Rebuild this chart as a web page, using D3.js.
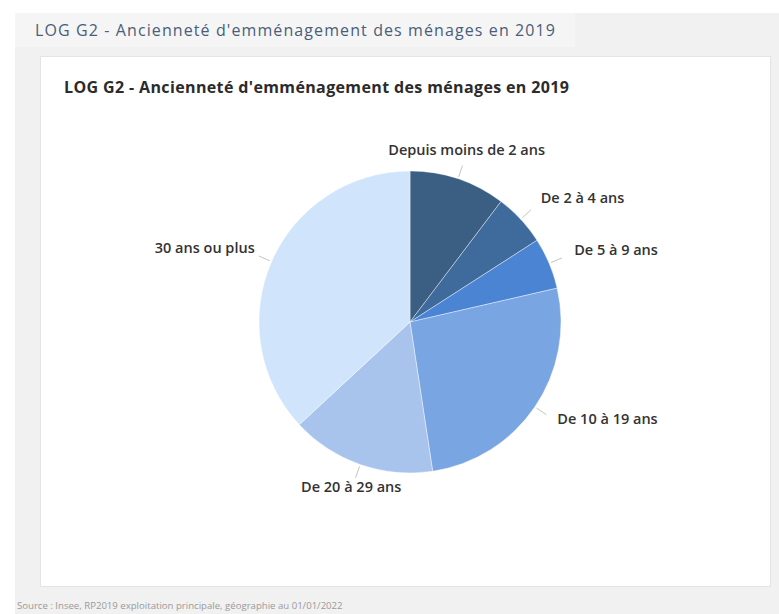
<!DOCTYPE html>
<html lang="fr">
<head>
<meta charset="utf-8">
<script src="https://cdn.jsdelivr.net/npm/d3@7/dist/d3.min.js"></script>
<style>
  html, body { margin: 0; padding: 0; background: #ffffff; }
  svg { display: block; }
</style>
</head>
<body>
<script>
// Ancienneté d'emménagement des ménages en 2019 (parts en %)
const categories = [
  "Depuis moins de 2 ans",
  "De 2 à 4 ans",
  "De 5 à 9 ans",
  "De 10 à 19 ans",
  "De 20 à 29 ans",
  "30 ans ou plus"
];
const shares = [10.3, 5.6, 5.5, 26.2, 15.5, 36.9];
const sliceColors = ["#3b5f82", "#3f6a9c", "#4a84d2", "#79a6e2", "#a8c4ec", "#d0e4fb"];

const pageTitle = "LOG G2 - Ancienneté d'emménagement des ménages en 2019";
const chartTitle = "LOG G2 - Ancienneté d'emménagement des ménages en 2019";
const sourceNote = "Source : Insee, RP2019 exploitation principale, géographie au 01/01/2022";

const W = 779, H = 614;
const svg = d3.select("body").append("svg").attr("width", W).attr("height", H);

// page panel
svg.append("rect").attr("x", 15).attr("y", 13).attr("width", W - 15).attr("height", H - 13)
  .attr("fill", "#f1f1f1");
svg.append("rect").attr("x", 15).attr("y", 13).attr("width", 560).attr("height", 34)
  .attr("fill", "#f5f5f5");

svg.append("text").attr("x", 35).attr("y", 36)
  .attr("font-family", "'Open Sans', sans-serif").attr("font-size", 16)
  .attr("textLength", 520).attr("lengthAdjust", "spacing")
  .attr("fill", "#4a5d7a").text(pageTitle);

// chart card
svg.append("rect").attr("x", 40.5).attr("y", 56.5).attr("width", 730).attr("height", 530)
  .attr("fill", "#ffffff").attr("stroke", "#e4e4e4");

svg.append("text").attr("x", 64).attr("y", 93)
  .attr("font-family", "'Open Sans', sans-serif").attr("font-size", 16).attr("font-weight", 700)
  .attr("textLength", 505).attr("lengthAdjust", "spacing")
  .attr("fill", "#2b2b2b").text(chartTitle);

svg.append("text").attr("x", 17).attr("y", 609)
  .attr("font-family", "'Open Sans', sans-serif").attr("font-size", 9.6)
  .attr("fill", "#9a9a9a").text(sourceNote);

// pie
const cx = 410, cy = 322, r = 151;
const g = svg.append("g").attr("transform", `translate(${cx},${cy})`);

const pie = d3.pie().sort(null).value(d => d.v);
const data = pie(categories.map((c, i) => ({ c, v: shares[i], col: sliceColors[i] })));
const arc = d3.arc().innerRadius(0).outerRadius(r);

g.selectAll("path.slice").data(data).join("path")
  .attr("class", "slice")
  .attr("d", arc)
  .attr("fill", d => d.data.col)
  .attr("stroke", "#ffffff").attr("stroke-width", 0.4);

// leader lines and labels
const mid = d => (d.startAngle + d.endAngle) / 2;
const pt = (a, rad) => [rad * Math.sin(a), -rad * Math.cos(a)];

g.selectAll("line.leader").data(data).join("line")
  .attr("class", "leader")
  .attr("x1", d => pt(mid(d), r + 2)[0]).attr("y1", d => pt(mid(d), r + 2)[1])
  .attr("x2", d => pt(mid(d), r + 14)[0]).attr("y2", d => pt(mid(d), r + 14)[1])
  .attr("stroke", "#c4c4c4").attr("stroke-width", 1);

g.selectAll("text.lbl").data(data).join("text")
  .attr("class", "lbl")
  .attr("x", d => pt(mid(d), r * 1.18)[0] + (Math.sin(mid(d)) < -0.45 ? 8 : 0))
  .attr("y", d => pt(mid(d), r * 1.18)[1] - 3)
  .attr("dy", "0.35em")
  .attr("text-anchor", d => {
    const s = Math.sin(mid(d));
    return s > 0.45 ? "start" : s < -0.45 ? "end" : "middle";
  })
  .attr("font-family", "'Open Sans', sans-serif").attr("font-size", 14.5).attr("font-weight", 600)
  .attr("fill", "#333333")
  .text(d => d.data.c);
</script>
</body>
</html>
